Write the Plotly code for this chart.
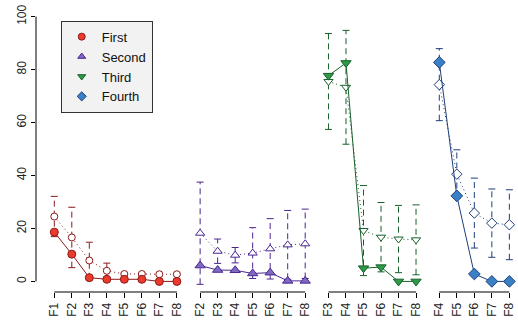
import plotly.graph_objects as go

# ---------------- data ----------------
names = ["First", "Second", "Third", "Fourth"]
labels_first = ["F1", "F2", "F3", "F4", "F5", "F6", "F7", "F8"]
labels_second = ["F2", "F3", "F4", "F5", "F6", "F7", "F8"]
labels_third = ["F3", "F4", "F5", "F6", "F7", "F8"]
labels_fourth = ["F4", "F5", "F6", "F7", "F8"]

solid_first = [18.6, 10.3, 1.4, 0.8, 0.8, 0.8, 0.0, 0.0]
open_first = [24.5, 16.6, 7.9, 4.0, 2.8, 2.8, 2.7, 2.7]
err_first = [7.6, 11.4, 6.9, 2.9, 0.4, 0.4, 0.4, 0.4]

solid_second = [6.0, 4.3, 4.2, 3.0, 3.3, 0.2, 0.2]
open_second = [18.2, 11.4, 9.9, 10.7, 12.3, 13.8, 14.2]
err_second = [19.3, 4.6, 2.9, 9.6, 11.4, 13.0, 13.1]

solid_third = [77.7, 82.5, 5.0, 5.4, 0.0, 0.0]
open_third = [75.5, 73.3, 19.2, 16.7, 16.0, 15.7]
err_third = [18.1, 21.5, 17.0, 13.1, 12.7, 13.2]

solid_fourth = [82.7, 32.3, 2.8, 0.0, 0.0]
open_fourth = [74.3, 40.5, 25.8, 22.0, 21.4]
err_fourth = [13.6, 9.2, 13.2, 12.9, 13.2]

y_ticks = [0, 20, 40, 60, 80, 100]

# ---------------- styles ----------------
groups = [
    dict(name="First", labels=labels_first, solid=solid_first, open=open_first, err=err_first,
         symbol="circle", fill="#EC3A2C", edge="#8B1A1A", size=8),
    dict(name="Second", labels=labels_second, solid=solid_second, open=open_second, err=err_second,
         symbol="triangle-up", fill="#7E6BC0", edge="#4A2590", size=9),
    dict(name="Third", labels=labels_third, solid=solid_third, open=open_third, err=err_third,
         symbol="triangle-down", fill="#2E9A45", edge="#17602A", size=9),
    dict(name="Fourth", labels=labels_fourth, solid=solid_fourth, open=open_fourth, err=err_fourth,
         symbol="diamond", fill="#3A80C6", edge="#1E3F7A", size=9),
]
GAP = 1.33

fig = go.Figure()
tickvals, ticktext = [], []
shapes = []
prev_end = None
for g in groups:
    nums = [int(l[1:]) for l in g["labels"]]
    start = 1.0 if prev_end is None else prev_end + GAP
    off = start - nums[0]
    xs = [n + off for n in nums]
    prev_end = xs[-1]
    tickvals += xs
    ticktext += g["labels"]
    shapes.append(dict(type="line", xref="x", yref="paper", x0=xs[0], x1=xs[-1], y0=0, y1=0,
                       line=dict(color="black", width=1)))
    lo = [o - e for o, e in zip(g["open"], g["err"])]
    hi = [o + e for o, e in zip(g["open"], g["err"])]
    bx, by = [], []
    for x, a, b in zip(xs, lo, hi):
        bx += [x, x, None]
        by += [a, b, None]
    fig.add_trace(go.Scatter(x=bx, y=by, mode="lines", showlegend=False, hoverinfo="skip",
                             line=dict(color=g["edge"], width=1, dash="6px,4px")))
    fig.add_trace(go.Scatter(x=xs + xs, y=lo + hi, mode="markers", showlegend=False, hoverinfo="skip",
                             marker=dict(symbol="line-ew", size=5,
                                         line=dict(color=g["edge"], width=1))))
    fig.add_trace(go.Scatter(x=xs, y=g["open"], mode="lines+markers", showlegend=False,
                             line=dict(color=g["edge"], width=1, dash="1px,3px"),
                             marker=dict(symbol=g["symbol"], size=g["size"] - 1, color="white",
                                         line=dict(color=g["edge"], width=1))))
    fig.add_trace(go.Scatter(x=xs, y=g["solid"], mode="lines+markers", showlegend=False,
                             line=dict(color=g["edge"], width=1),
                             marker=dict(symbol=g["symbol"], size=g["size"], color=g["fill"],
                                         line=dict(color=g["edge"], width=1))))

for g in groups:
    fig.add_trace(go.Scatter(x=[None], y=[None], mode="markers", name=g["name"],
                             marker=dict(symbol=g["symbol"], size=7, color=g["fill"],
                                         line=dict(color=g["edge"], width=1))))

# y axis line 0..100
shapes.append(dict(type="line", xref="paper", yref="y", x0=0, x1=0, y0=0, y1=100,
                   line=dict(color="black", width=1)))

fig.update_layout(
    width=518, height=322,
    margin=dict(l=36, r=2, t=6, b=30),
    paper_bgcolor="white", plot_bgcolor="white",
    font=dict(family="Liberation Sans, Arial, sans-serif", color="#222"),
    shapes=shapes,
    showlegend=True,
    legend=dict(x=0.0515, y=0.9486, xanchor="left", yanchor="top",
                bgcolor="#F2F2F2", bordercolor="#333", borderwidth=1,
                font=dict(size=13, color="#111"), itemwidth=30, tracegroupgap=0),
    xaxis=dict(range=[-0.045, 27.37], showgrid=False, zeroline=False, showline=False,
               tickmode="array", tickvals=tickvals, ticktext=ticktext, tickangle=-90,
               ticks="outside", ticklen=5, tickcolor="black", tickwidth=1,
               tickfont=dict(size=12), automargin=False),
    yaxis=dict(range=[-4, 104], showgrid=False, zeroline=False, showline=False,
               tickmode="array", tickvals=y_ticks, tickangle=-90,
               ticks="outside", ticklen=4, tickcolor="black", tickwidth=1,
               tickfont=dict(size=12), automargin=False),
)

fig.write_html("out.html", config={"displayModeBar": False},
               post_script="document.body.style.margin='0px';document.body.style.padding='0px';")
